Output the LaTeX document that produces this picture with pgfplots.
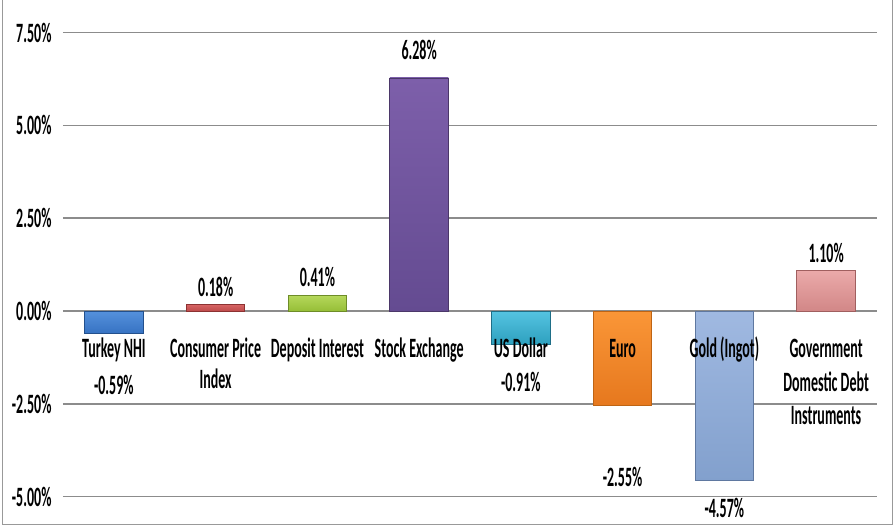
\documentclass[border=0pt]{standalone}
\usepackage{pgfplots}
\pgfplotsset{compat=1.18}
\usepackage{fontspec}
\setmainfont{Carlito}
\newfontfamily\lab{Carlito}[FakeStretch=0.5]
\newcommand{\lf}{\lab\bfseries\fontsize{28}{31}\selectfont}
\definecolor{gridc}{HTML}{8C8C8C}
\begin{document}
\begin{tikzpicture}
\useasboundingbox (-63pt,-2pt) rectangle (832pt,525pt);
\begin{axis}[
  scale only axis,
  width=814pt, height=525pt,
  xmin=-0.5, xmax=7.5,
  ymin=-5.765, ymax=8.38,
  axis line style={draw=none},
  major tick length=0pt,
  xtick=\empty,
  ytick={-5,-2.5,0,2.5,5,7.5},
  yticklabels={-5.00\%,-2.50\%,0.00\%,2.50\%,5.00\%,7.50\%},
  yticklabel style={font=\lf, anchor=east, xshift=-8pt},
  ymajorgrids,
  grid style={gridc, line width=1.6pt},
  ybar, bar width=58.5pt,
  clip=false,
  every axis plot/.append style={bar shift=0pt, line width=0.8pt},
]
\addplot[draw={rgb,255:red,35;green,80;blue,140}, top color={rgb,255:red,85;green,145;blue,220}, bottom color={rgb,255:red,55;green,115;blue,195}] coordinates {(0,-0.59)};
\addplot[draw={rgb,255:red,140;green,50;blue,50}, top color={rgb,255:red,215;green,100;blue,100}, bottom color={rgb,255:red,190;green,75;blue,75}] coordinates {(1,0.18)};
\addplot[draw={rgb,255:red,110;green,140;blue,40}, top color={rgb,255:red,180;green,215;blue,90}, bottom color={rgb,255:red,150;green,190;blue,55}] coordinates {(2,0.41)};
\addplot[draw={rgb,255:red,75;green,55;blue,105}, top color={rgb,255:red,125;green,95;blue,170}, bottom color={rgb,255:red,100;green,75;blue,145}] coordinates {(3,6.28)};
\addplot[draw={rgb,255:red,30;green,110;blue,135}, top color={rgb,255:red,85;green,195;blue,225}, bottom color={rgb,255:red,45;green,160;blue,190}] coordinates {(4,-0.91)};
\addplot[draw={rgb,255:red,190;green,100;blue,20}, top color={rgb,255:red,250;green,150;blue,55}, bottom color={rgb,255:red,230;green,120;blue,30}] coordinates {(5,-2.55)};
\addplot[draw={rgb,255:red,95;green,120;blue,160}, top color={rgb,255:red,160;green,185;blue,225}, bottom color={rgb,255:red,130;green,160;blue,205}] coordinates {(6,-4.57)};
\addplot[draw={rgb,255:red,160;green,95;blue,95}, top color={rgb,255:red,235;green,170;blue,170}, bottom color={rgb,255:red,210;green,135;blue,135}] coordinates {(7,1.10)};
% category labels
\foreach \x/\t in {0/Turkey NHI,1/Consumer Price,2/Deposit Interest,3/Stock Exchange,4/US Dollar,5/Euro,6/Gold (Ingot),7/Government}{
  \edef\tmp{\noexpand\node[anchor=base, font=\noexpand\lf, inner sep=0pt] at (axis cs:\x,-1.24) {\t};}\tmp
}
\node[anchor=base, font=\lf, inner sep=0pt] at (axis cs:1,-2.08) {Index};
\node[anchor=base, font=\lf, inner sep=0pt] at (axis cs:7,-2.18) {Domestic Debt};
\node[anchor=base, font=\lf, inner sep=0pt] at (axis cs:7,-3.05) {Instruments};
% value labels
\node[anchor=base, font=\lf, inner sep=0pt] at (axis cs:0,-2.24) {-0.59\%};
\node[anchor=base, font=\lf, inner sep=0pt] at (axis cs:1,0.40) {0.18\%};
\node[anchor=base, font=\lf, inner sep=0pt] at (axis cs:2,0.65) {0.41\%};
\node[anchor=base, font=\lf, inner sep=0pt] at (axis cs:3,6.79) {6.28\%};
\node[anchor=base, font=\lf, inner sep=0pt] at (axis cs:4,-2.18) {-0.91\%};
\node[anchor=base, font=\lf, inner sep=0pt] at (axis cs:5,-4.74) {-2.55\%};
\node[anchor=base, font=\lf, inner sep=0pt] at (axis cs:6,-5.55) {-4.57\%};
\node[anchor=base, font=\lf, inner sep=0pt] at (axis cs:7,1.32) {1.10\%};
\end{axis}
\draw[gray!80, line width=1pt] (-60pt,530pt) -- (-60pt,0pt) -- (829pt,0pt) -- (829pt,530pt);
\end{tikzpicture}
\end{document}
